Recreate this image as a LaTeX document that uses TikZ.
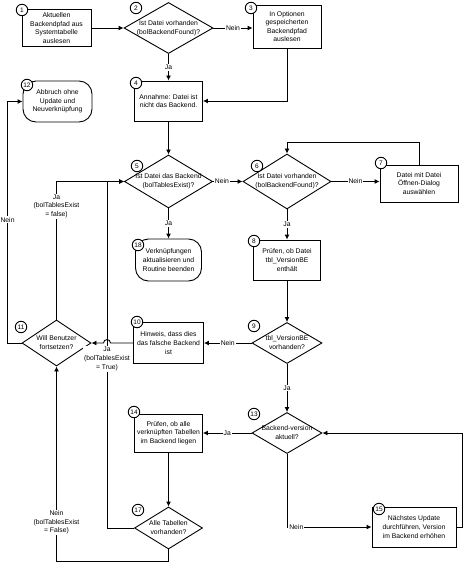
\documentclass[tikz,border=0pt]{standalone}
\usepackage{fontspec}
\setmainfont{Liberation Sans}
\usetikzlibrary{shapes.geometric,arrows.meta}
\newcommand{\dtx}[1]{\makebox[0pt]{\begin{tabular}{@{}c@{}}#1\end{tabular}}}
\begin{document}
\begin{tikzpicture}[x=1pt,y=-1pt,
 every node/.style={font=\fontsize{6.8}{8.6}\selectfont},
 box/.style={draw, rectangle, align=center, inner sep=0.5pt, line width=0.9pt},
 term/.style={box, rounded corners=13pt},
 dec/.style={draw, diamond, inner sep=0pt, line width=0.9pt},
 num/.style={draw, circle, minimum size=11.5pt, inner sep=0pt, fill=white, line width=0.9pt, font=\fontsize{6.5}{7}\selectfont},
 lbl/.style={fill=white, inner sep=1pt, align=center},
 flow/.style={line width=0.9pt, -{Latex[length=5pt,width=5pt]}}]
\useasboundingbox (0,0) rectangle (464,564);

% process / decision nodes
\node[box, minimum width=69pt, minimum height=37pt] (n1) at (56.5,28) {Aktuellen\\Backendpfad aus\\Systemtabelle\\auslesen};
\node[dec, minimum width=89pt, minimum height=51pt] (d2) at (168.5,28) {\dtx{Ist Datei vorhanden\\(bolBackendFound)?}};
\node[box, minimum width=68pt, minimum height=43pt] (n3) at (287,26.5) {In Optionen\\gespeicherten\\Backendpfad\\auslesen};
\node[box, minimum width=68pt, minimum height=40pt] (n4) at (168.5,101) {Annahme: Datei ist\\nicht das Backend.};
\node[term, minimum width=69pt, minimum height=41pt] (n12) at (57.5,101.5) {Abbruch ohne\\Update und\\Neuverknüpfung};
\node[dec, minimum width=88pt, minimum height=53pt] (d5) at (168.5,181.5) {\dtx{Ist Datei das Backend\\(bolTablesExist)?}};
\node[term, minimum width=66pt, minimum height=42pt] (n18) at (168.5,260) {Verknüpfungen\\aktualisieren und\\Routine beenden};
\node[dec, minimum width=88pt, minimum height=55pt] (d6) at (287,181.5) {\dtx{Ist Datei vorhanden\\(bolBackendFound)?}};
\node[box, minimum width=78pt, minimum height=37pt] (n7) at (419,183.5) {Datei mit Datei\\Öffnen-Dialog\\auswählen};
\node[box, minimum width=67pt, minimum height=40pt] (n8) at (287,260) {Prüfen, ob Datei\\tbl\_VersionBE\\enthält};
\node[dec, minimum width=70pt, minimum height=41pt] (d9) at (287,343) {\dtx{tbl\_VersionBE\\vorhanden?}};
\node[box, minimum width=70pt, minimum height=41pt] (n10) at (168.5,343) {Hinweis, dass dies\\das falsche Backend\\ist};
\node[dec, minimum width=69pt, minimum height=46pt] (d11) at (56.5,343) {\dtx{Will Benutzer\\fortsetzen?}};
\node[dec, minimum width=70pt, minimum height=41pt] (d13) at (287,433) {\dtx{Backend-version\\aktuell?}};
\node[box, minimum width=68pt, minimum height=38pt] (n14) at (168.5,433) {Prüfen, ob alle\\verknüpften Tabellen\\im Backend liegen};
\node[dec, minimum width=68pt, minimum height=42pt] (d17) at (168.5,528) {\dtx{Alle Tabellen\\vorhanden?}};
\node[box, minimum width=84pt, minimum height=40pt] (n15) at (414,527) {Nächstes Update\\durchführen, Version\\im Backend erhöhen};

% auxiliary coordinates
\coordinate (r15) at (462,527);
\coordinate (j17) at (107,528);
\coordinate (b1) at (110.5,343);
\coordinate (b2) at (103.5,343);

% connectors
\draw[flow] (n1.east) -- (d2.west);
\draw[flow] (d2.east) -- node[lbl]{Nein} (d2.east -| n3.west);
\draw[flow] (d2.south) -- node[lbl]{Ja} (n4.north);
\draw[flow] (n3.south) |- (n4.east);
\draw[flow] (n4.south) -- (d5.north);
\draw[flow] (d5.south) -- node[lbl]{Ja} (n18.north);
\draw[flow] (d5.east) -- node[lbl,pos=0.3]{Nein} (d6.west);
\draw[flow] (d6.east) -- node[lbl]{Nein} (d6.east -| n7.west);
\draw[flow] (n7.north) -- ++(0,-22) -| (d6.north);
\draw[flow] (d6.south) -- node[lbl]{Ja} (n8.north);
\draw[flow] (n8.south) -- (d9.north);
\draw[flow] (d9.west) -- node[lbl]{Nein} (n10.east);
\draw[flow] (n10.west) -- (b1) .. controls (110.5,338.5) and (103.5,338.5) .. (b2) -- (d11.east);
\draw[flow] (d9.south) -- node[lbl]{Ja} (d13.north);
\draw[flow] (d13.west) -- node[lbl]{Ja} (n14.east);
\draw[flow] (n14.south) -- (d17.north);
\draw[flow] (d13.south) |- node[lbl,pos=0.555]{Nein} (n15.west);
\draw[flow] (n15.east) -- (r15) |- (d13.east);
\draw[flow] (d17.west) -- (j17) |- node[lbl,pos=0.244]{Ja\\(bolTablesExist\\= True)} (d5.west);
\draw[flow] (d11.north) |- node[lbl,pos=0.41]{Ja\\(bolTablesExist\\= false)} (d5.west);
\draw[flow] (d17.south) -- ++(0,12) -| node[lbl,pos=0.6]{Nein\\(bolTablesExist\\= False)} (d11.south);
\draw[flow] (d11.west) -- ++(-14,0) |- node[lbl,pos=0.255]{Nein} (n12.west);

% step numbers
\node[num] (c1) at (22,10) {1};
\node[num] (c2) at (136,8) {2};
\node[num] (c3) at (251,8) {3};
\node[num] (c4) at (136,83) {4};
\node[num] (c12) at (27,85) {12};
\node[num] (c5) at (137,166) {5};
\node[num] (c6) at (257,166) {6};
\node[num] (c7) at (381,163) {7};
\node[num] (c18) at (138,245) {18};
\node[num] (c8) at (254,241) {8};
\node[num] (c10) at (137,322) {10};
\node[num] (c9) at (254,326) {9};
\node[num] (c11) at (21,327) {11};
\node[num] (c13) at (254,414) {13};
\node[num] (c14) at (134,412) {14};
\node[num] (c17) at (138,510) {17};
\node[num] (c15) at (379,509) {15};
\end{tikzpicture}
\end{document}
